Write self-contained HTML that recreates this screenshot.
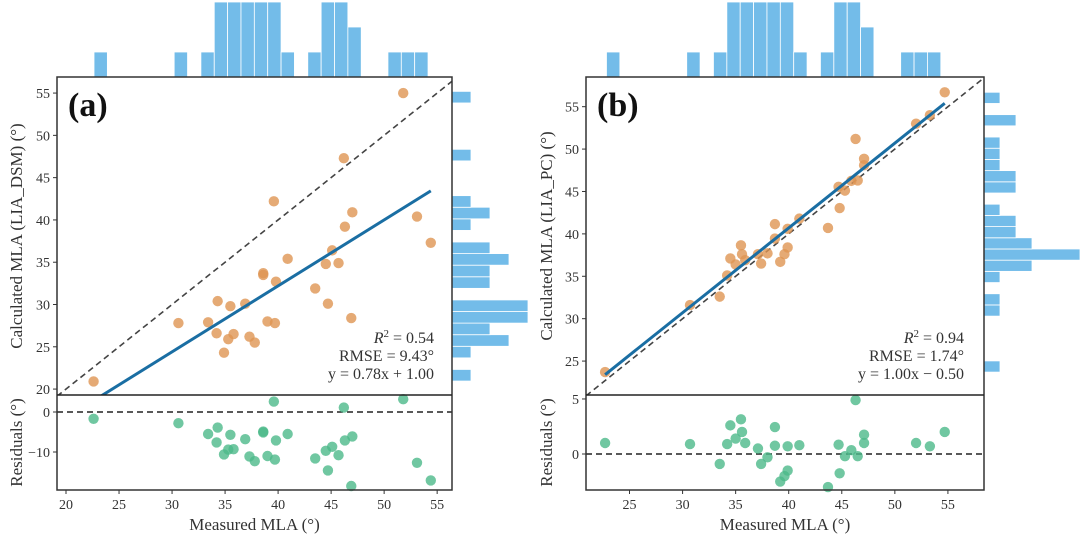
<!DOCTYPE html>
<html><head><meta charset="utf-8"><style>
html,body{margin:0;padding:0;background:#fff;}
svg{display:block;font-family:"Liberation Serif",serif;}
</style></head><body>
<svg id="chart" width="1080" height="538" viewBox="0 0 1080 538" xmlns="http://www.w3.org/2000/svg"></svg>
<script>
// ---- Panel (a) data ----
const measuredA = [22.6,30.6,33.4,34.2,34.3,34.9,35.5,35.3,35.8,36.9,37.3,37.8,38.6,38.6,39.0,39.7,39.6,39.8,40.9,43.5,44.5,44.7,45.1,45.7,46.2,46.3,47.0,46.9,51.8,53.1,54.4];
const calculatedA = [20.9,27.8,27.9,26.6,30.4,24.3,29.8,25.9,26.5,30.1,26.2,25.5,33.7,33.5,28.0,27.8,42.2,32.7,35.4,31.9,34.8,30.1,36.4,34.9,47.3,39.2,40.9,28.4,55.0,40.4,37.3];
const fitA = [0.78, 1.00];
const statsA = ["0.54","9.43°","y = 0.78x + 1.00"];
const histXCountsA = [1,0,0,0,0,0,1,0,1,3,3,3,3,3,1,0,1,3,3,2,0,0,1,1,1];
const histYCountsA = [1,0,1,3,2,4,4,0,2,2,3,2,0,1,2,1,0,0,0,1,0,0,0,0,1];
const xTicksA = [20,25,30,35,40,45,50,55];
const yTicksA = [20,25,30,35,40,45,50,55];
const resTicksA = [0,-10];
// ---- Panel (b) data ----
const measuredB = [22.7,30.7,33.5,34.2,34.5,35.0,35.5,35.6,35.9,37.1,37.4,38.0,38.7,38.7,39.2,39.6,39.9,39.9,41.0,43.7,44.8,44.7,45.3,45.9,46.5,46.3,47.1,47.1,52.0,53.3,54.7];
const calculatedB = [23.7,31.6,32.6,35.1,37.1,36.4,38.65,37.6,36.9,37.6,36.5,37.7,41.15,39.45,36.7,37.6,38.4,40.6,41.8,40.7,43.05,45.55,45.1,46.25,46.3,51.2,48.1,48.85,53.0,54.0,56.7];
const fitB = [1.00, 0.7];
const statsB = ["0.94","1.74°","y = 1.00x − 0.50"];
const histXCountsB = [1,0,0,0,0,0,1,0,1,3,3,3,3,3,1,0,1,3,3,2,0,0,1,1,1];
const histYCountsB = [1,0,0,0,0,1,1,0,1,3,6,3,2,2,1,0,2,2,1,1,1,0,2,0,1];
const xTicksB = [25,30,35,40,45,50,55];
const yTicksB = [25,30,35,40,45,50,55];
const resTicksB = [5,0];

const NS="http://www.w3.org/2000/svg";
const svg=document.getElementById('chart');
function mk(tag,attrs,parent){const e=document.createElementNS(NS,tag);for(const k in attrs)e.setAttribute(k,attrs[k]);(parent||svg).appendChild(e);return e;}

function panel(cfg){
  const g=mk('g',{});
  
  
  const {L,R,T,M,B}=cfg;
  const xs=v=>L+(v-cfg.x0)*(R-L)/(cfg.x1-cfg.x0);
  const ys=v=>M-(v-cfg.y0)*(M-T)/(cfg.y1-cfg.y0);
  const rs=v=>B-(v-cfg.r0)*(B-M)/(cfg.r1-cfg.r0);
  const cid='clip'+cfg.id;
  const cp=mk('clipPath',{id:cid},g);mk('rect',{x:L,y:T,width:R-L,height:M-T},cp);
  // top histogram
  cfg.hx.forEach((c,i)=>{ if(!c)return;
    const a=xs(cfg.hxStart+i*cfg.hxW), b=xs(cfg.hxStart+(i+1)*cfg.hxW);
    const r=mk('rect',{x:a,y:T-c*25,width:b-a,height:c*25,fill:'#73bce9',stroke:'#fff','stroke-width':0.8},g);
    
    
  });
  // right histogram
  cfg.hy.forEach((c,i)=>{ if(!c)return;
    const a=ys(cfg.hyStart+(i+1)*cfg.hyW), b=ys(cfg.hyStart+i*cfg.hyW);
    const r=mk('rect',{x:R,y:a,width:c*cfg.hyUnit,height:b-a,fill:'#73bce9',stroke:'#fff','stroke-width':0.8},g);
    
    
  });
  // 1:1 line
  const d=mk('line',{x1:xs(cfg.x0),y1:ys(cfg.x0),x2:xs(cfg.x1),y2:ys(cfg.x1),stroke:'#444','stroke-width':1.6,'stroke-dasharray':'6,4','clip-path':`url(#${cid})`},g);
  
  
  // points
  cfg.meas.forEach((m,i)=>{
    const p=mk('circle',{cx:xs(m),cy:ys(cfg.calc[i]),r:5.2,fill:'#df9553','fill-opacity':0.8},g);
    
    
  });
  // fit line
  const mn=Math.min(...cfg.meas), mx=Math.max(...cfg.meas);
  const f=mk('line',{x1:xs(mn),y1:ys(cfg.fit[0]*mn+cfg.fit[1]),x2:xs(mx),y2:ys(cfg.fit[0]*mx+cfg.fit[1]),stroke:'#1a6ea3','stroke-width':3,'clip-path':`url(#${cid})`},g);
  
  
  // residual points
  const zl=mk('line',{x1:L,y1:rs(0),x2:R,y2:rs(0),stroke:'#222','stroke-width':1.6,'stroke-dasharray':'6,4'},g);
  
  
  cfg.meas.forEach((m,i)=>{
    const p=mk('circle',{cx:xs(m),cy:rs(cfg.calc[i]-m),r:5.2,fill:'#4cb98a','fill-opacity':0.8},g);
    
    
  });
  // frame
  const fr=mk('rect',{x:L,y:T,width:R-L,height:B-T,fill:'none',stroke:'#333','stroke-width':1.5},g);
  
  
  mk('line',{x1:L,y1:M,x2:R,y2:M,stroke:'#222','stroke-width':1.6},g);
  // ticks
  const tk=(x1,y1,x2,y2)=>mk('line',{x1,y1,x2,y2,stroke:'#333','stroke-width':1},g);
  const tx=(x,y,s,anchor,name,size)=>{const t=mk('text',{x,y,'text-anchor':anchor,'font-size':size||14,fill:'#333'},g);t.textContent=s;return t;};
  cfg.xt.forEach(v=>{tk(xs(v),B,xs(v),B+4);tx(xs(v),B+19,v,'middle','x-tick-label');});
  cfg.yt.forEach(v=>{tk(L-4,ys(v),L,ys(v));tx(L-7,ys(v)+5,v,'end','y-tick-label');});
  cfg.rt.forEach(v=>{tk(L-4,rs(v),L,rs(v));tx(L-7,rs(v)+5,v<0?'−'+(-v):v,'end','residual-tick-label');});
  // labels
  tx((L+R)/2,B+40,'Measured MLA (°)','middle','x-axis-title',17);
  const yt=tx(0,0,cfg.ylab,'middle','y-axis-title',17);yt.setAttribute('transform',`translate(${cfg.ylx},${(T+M)/2}) rotate(-90)`);
  const rt=tx(0,0,'Residuals (°)','middle','residual-axis-title',17);rt.setAttribute('transform',`translate(${cfg.ylx},${(M+B)/2}) rotate(-90)`);
  const pl=tx(L+11,T+39,cfg.tag,'start','panel-label',34);pl.setAttribute('font-weight','bold');pl.setAttribute('fill','#111');
  // stats
  const s1=mk('text',{x:cfg.sx,y:343,'text-anchor':'end','font-size':16,fill:'#333'},g);
  
  
  s1.innerHTML=`<tspan font-style="italic">R</tspan><tspan dy="-6" font-size="11">2</tspan><tspan dy="6"> = ${cfg.stats[0]}</tspan>`;
  tx(cfg.sx,361,'RMSE = '+cfg.stats[1],'end','rmse-label',16);
  tx(cfg.sx,379,cfg.stats[2],'end','equation-label',16);
}

panel({id:'a',name:'panel-a',tag:'(a)',L:57,R:452,T:77,M:395,B:490,x0:19.15,x1:56.4,y0:19.3,y1:56.9,r0:-19.5,r1:4.25,
  meas:measuredA,calc:calculatedA,fit:fitA,stats:statsA,hx:histXCountsA,hxStart:22.64,hxW:1.26,hy:histYCountsA,hyStart:20.95,hyW:1.37,hyUnit:19,
  xt:xTicksA,yt:yTicksA,rt:resTicksA,ylab:'Calculated MLA (LIA_DSM) (°)',ylx:22,sx:434});
panel({id:'b',name:'panel-b',tag:'(b)',L:586,R:984,T:77,M:395,B:490,x0:20.9,x1:58.4,y0:21,y1:58.5,r0:-3.27,r1:5.36,
  meas:measuredB,calc:calculatedB,fit:fitB,stats:statsB,hx:histXCountsB,hxStart:22.83,hxW:1.26,hy:histYCountsB,hyStart:23.7,hyW:1.32,hyUnit:16,
  xt:xTicksB,yt:yTicksB,rt:resTicksB,ylab:'Calculated MLA (LIA_PC) (°)',ylx:552,sx:964});
</script>
</body></html>
